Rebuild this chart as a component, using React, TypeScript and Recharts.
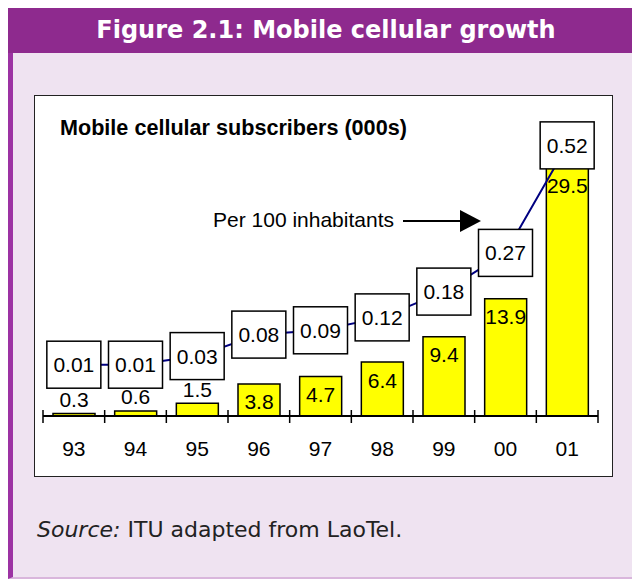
import React from "react";
import { ComposedChart, Bar, Line, XAxis, YAxis, LabelList } from "recharts";

const years = ["93", "94", "95", "96", "97", "98", "99", "00", "01"];
const subscribers = [0.3, 0.6, 1.5, 3.8, 4.7, 6.4, 9.4, 13.9, 29.5];
const per100 = [0.01, 0.01, 0.03, 0.08, 0.09, 0.12, 0.18, 0.27, 0.52];
const per100Labels = ["0.01", "0.01", "0.03", "0.08", "0.09", "0.12", "0.18", "0.27", "0.52"];

const data = years.map((year, i) => ({
  year,
  subs: subscribers[i],
  per100: per100[i],
  label: per100Labels[i],
}));

// chart geometry (chart sits exactly on the white box)
const W = 579;
const H = 382;
const MARGIN = { top: 26, right: 15, left: 9, bottom: 0 };
const AXIS_H = 61;
const PLOT_W = W - MARGIN.left - MARGIN.right;
const AXIS_Y = H - AXIS_H;
const BAND = PLOT_W / years.length;

const ARIAL = "'Liberation Sans', Arial, sans-serif";
const VERDANA = "'DejaVu Sans', Verdana, sans-serif";

const YearTick = ({ x, payload, index }: any) => {
  const left = x - BAND / 2;
  const right = x + BAND / 2;
  return (
    <g>
      <line x1={left} x2={left} y1={AXIS_Y - 6} y2={AXIS_Y + 7} stroke="#000" strokeWidth={1.5} />
      {index === years.length - 1 && (
        <line x1={right} x2={right} y1={AXIS_Y - 6} y2={AXIS_Y + 7} stroke="#000" strokeWidth={1.5} />
      )}
      <text
        x={x}
        y={AXIS_Y + 32}
        textAnchor="middle"
        dominantBaseline="central"
        fontFamily={ARIAL}
        fontSize={21}
        fill="#000"
      >
        {payload.value}
      </text>
    </g>
  );
};

// small bars get the label on top, bigger ones inside the top end
const BarLabel = ({ x, y, width, value }: any) => {
  const cy = value < 2 ? y - 14 : y + 18;
  return (
    <text
      x={x + width / 2}
      y={cy}
      textAnchor="middle"
      dominantBaseline="central"
      fontFamily={ARIAL}
      fontSize={21}
      fill="#000"
    >
      {value}
    </text>
  );
};

const BoxLabel = ({ x, y, value }: any) => (
  <g>
    <rect x={x - 27} y={y - 23.5} width={54} height={47} fill="#fff" stroke="#000" strokeWidth={1.5} />
    <text
      x={x}
      y={y}
      textAnchor="middle"
      dominantBaseline="central"
      fontFamily={ARIAL}
      fontSize={21}
      fill="#000"
    >
      {value}
    </text>
  </g>
);

export default function App() {
  return (
    <div style={{ position: "relative", width: 632, height: 581, background: "#fff", overflow: "hidden" }}>
      <style>{`body{margin:0}`}</style>

      {/* title bar */}
      <div
        style={{
          position: "absolute",
          left: 8,
          top: 8,
          width: 624,
          height: 45,
          background: "#8E2A8E",
          color: "#fff",
          fontFamily: VERDANA,
          fontWeight: "bold",
          fontSize: 24,
          lineHeight: "45px",
          textAlign: "center",
          paddingLeft: 12,
          boxSizing: "border-box",
          whiteSpace: "nowrap",
        }}
      >
        Figure 2.1: Mobile cellular growth
      </div>

      {/* lavender panel */}
      <div
        style={{
          position: "absolute",
          left: 8,
          top: 53,
          width: 624,
          height: 526,
          background: "#EFE3F1",
          borderLeft: "5px solid #9C33A3",
          borderBottom: "2px solid #D9B6DC",
          boxSizing: "border-box",
        }}
      />

      {/* white chart box */}
      <div
        style={{
          position: "absolute",
          left: 34,
          top: 95,
          width: W,
          height: H,
          background: "#fff",
          border: "1.5px solid #222",
          boxSizing: "border-box",
        }}
      />

      <div style={{ position: "absolute", left: 34, top: 95 }}>
        <ComposedChart width={W} height={H} data={data} margin={MARGIN}>
          <XAxis
            dataKey="year"
            height={AXIS_H}
            axisLine={{ stroke: "#000", strokeWidth: 2 }}
            tickLine={false}
            tick={<YearTick />}
            interval={0}
          />
          <YAxis yAxisId="left" hide domain={[0, 35]} />
          <YAxis yAxisId="right" orientation="right" hide domain={[-0.1093, 0.5767]} allowDataOverflow />
          <Bar
            yAxisId="left"
            dataKey="subs"
            fill="#FFFF00"
            stroke="#000"
            strokeWidth={1.5}
            barSize={42}
            isAnimationActive={false}
          >
            <LabelList dataKey="subs" content={<BarLabel />} />
          </Bar>
          <Line
            yAxisId="right"
            type="linear"
            dataKey="per100"
            stroke="#000080"
            strokeWidth={2}
            dot={false}
            isAnimationActive={false}
          >
            <LabelList dataKey="label" content={<BoxLabel />} />
          </Line>
        </ComposedChart>
      </div>

      {/* annotations */}
      <svg
        width={632}
        height={581}
        style={{ position: "absolute", left: 0, top: 0, pointerEvents: "none" }}
      >
        <text
          x={60}
          y={127}
          dominantBaseline="central"
          fontFamily={ARIAL}
          fontWeight="bold"
          fontSize={21.6}
          fill="#000"
        >
          Mobile cellular subscribers (000s)
        </text>
        <text
          x={394}
          y={219}
          textAnchor="end"
          dominantBaseline="central"
          fontFamily={ARIAL}
          fontSize={21}
          fill="#000"
        >
          Per 100 inhabitants
        </text>
        <line x1={403} x2={462} y1={221} y2={221} stroke="#000" strokeWidth={2} />
        <polygon points="460,210 481,221 460,232" fill="#000" />
      </svg>

      <div
        style={{
          position: "absolute",
          left: 37,
          top: 517,
          fontFamily: VERDANA,
          fontSize: 22,
          color: "#222",
          whiteSpace: "nowrap",
        }}
      >
        <i>Source:</i> ITU adapted from LaoTel.
      </div>
    </div>
  );
}
